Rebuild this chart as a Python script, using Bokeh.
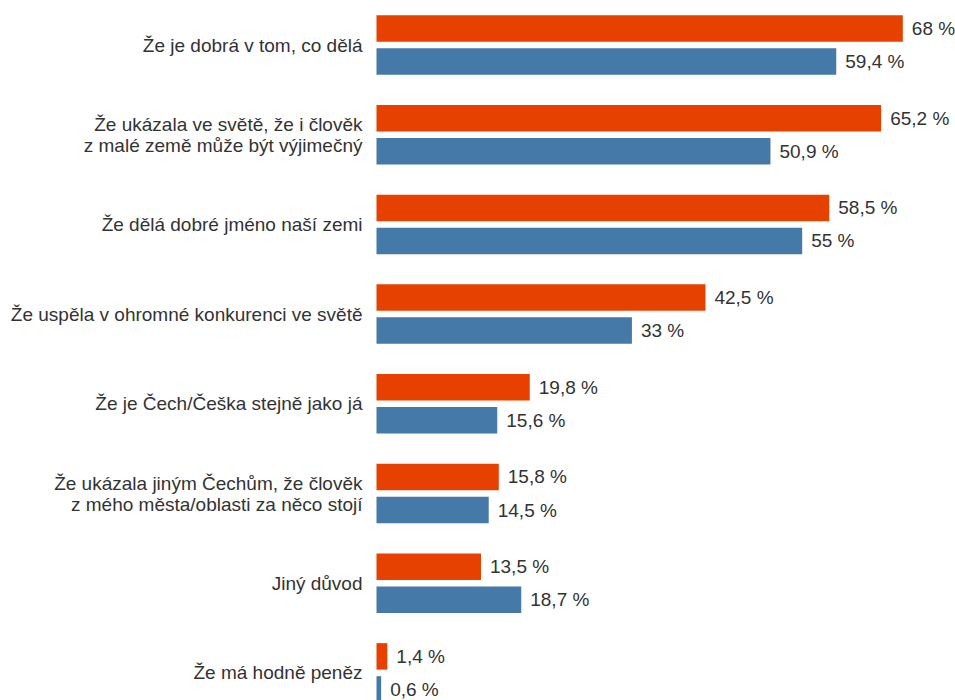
from bokeh.plotting import figure
from bokeh.models import ColumnDataSource, Range1d
from bokeh.core.properties import value
from bokeh.embed import file_html
from bokeh.resources import INLINE

categories = [
    "Že je dobrá v tom, co dělá",
    "Že ukázala ve světě, že i člověk\nz malé země může být výjimečný",
    "Že dělá dobré jméno naší zemi",
    "Že uspěla v ohromné konkurenci ve světě",
    "Že je Čech/Češka stejně jako já",
    "Že ukázala jiným Čechům, že člověk\nz mého města/oblasti za něco stojí",
    "Jiný důvod",
    "Že má hodně peněz",
]
series_orange = [68, 65.2, 58.5, 42.5, 19.8, 15.8, 13.5, 1.4]
series_blue = [59.4, 50.9, 55, 33, 15.6, 14.5, 18.7, 0.6]

ORANGE = "#E64100"
BLUE = "#4579A8"
TEXT = "#333333"
FONT = "Liberation Sans"
SIZE = "19px"


def fmt(v):
    if float(v).is_integer():
        return f"{int(v)} %"
    return f"{v}".replace(".", ",") + " %"


n = len(categories)
idx = list(range(n))
off = 0.184
bar_h = 0.295

src_o = ColumnDataSource(dict(y=[i - off for i in idx], v=series_orange,
                              lbl=[fmt(v) for v in series_orange]))
src_b = ColumnDataSource(dict(y=[i + off for i in idx], v=series_blue,
                              lbl=[fmt(v) for v in series_blue]))
src_c = ColumnDataSource(dict(y=idx, x=[0] * n, t=categories))

W, H = 955, 700
px_per_unit = 7.74
zero_px = 376
top_px = 44.5
pitch = 89.7
p = figure(width=W, height=H, output_backend="svg", toolbar_location=None,
           x_range=Range1d(-zero_px / px_per_unit, (W - zero_px) / px_per_unit),
           y_range=Range1d(-top_px / pitch + H / pitch, -top_px / pitch),
           x_axis_location=None, y_axis_location=None,
           min_border=0, outline_line_color=None,
           background_fill_color="white", border_fill_color="white")
p.xgrid.visible = False
p.ygrid.visible = False

p.hbar(y="y", right="v", left=0, height=bar_h, source=src_o,
       fill_color=ORANGE, line_color=None)
p.hbar(y="y", right="v", left=0, height=bar_h, source=src_b,
       fill_color=BLUE, line_color=None)

for src in (src_o, src_b):
    p.text(x="v", y="y", text="lbl", source=src, x_offset=9,
           text_align="left", text_baseline="middle",
           text_font=value(FONT), text_font_size=SIZE, text_color=TEXT)

p.text(x="x", y="y", text="t", source=src_c, x_offset=-14,
       text_align="right", text_baseline="middle", text_line_height=1.0,
       text_font=value(FONT), text_font_size=SIZE, text_color=TEXT)

open("out.html", "w").write(file_html(p, INLINE))
